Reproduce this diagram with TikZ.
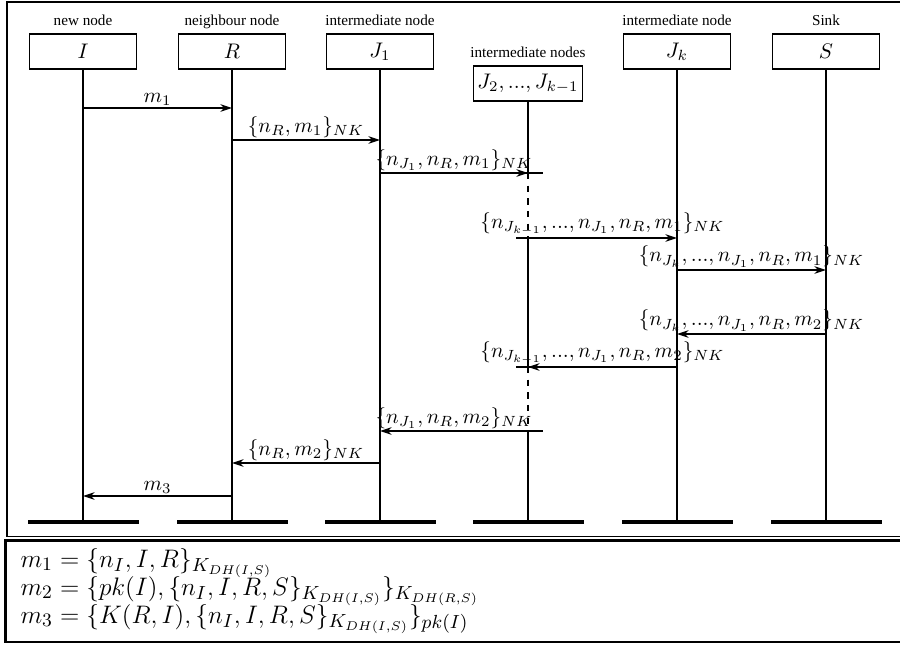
\documentclass[tikz,border=0pt]{standalone}
\usepackage{fontspec}
\newfontfamily\rolefont{Liberation Serif}
\usetikzlibrary{arrows.meta,calc,positioning}

\tikzset{
  actor/.style={draw, line width=0.5pt, minimum width=51pt, minimum height=16.6pt, inner sep=1pt},
  role/.style={font=\rolefont\fontsize{7.2}{8.6}\selectfont, inner sep=2.3pt, text depth=0pt},
  msg/.style={line width=0.5pt, -{Stealth[length=5.5pt,width=3.6pt,inset=1.8pt]}},
  mlabel/.style={above, inner sep=1pt, midway},
  endbar/.style={line width=1.9pt},
  def/.style={anchor=base west, inner sep=0pt, font=\fontsize{12.8}{15}\selectfont},
}

\begin{document}
\begin{tikzpicture}[x=0.474pt, y=-0.474pt, line width=0.5pt]
            \useasboundingbox (0,0) rectangle (900,646);
            \clip (0,0) rectangle (900,646);

            % Frames
            \draw[line width=0.6pt] (7,2) rectangle (920,536.5);
            \draw[line width=1pt] (5.5,540.5) rectangle (920,642);

            % Participants
            \node[actor] (I)  at (83,51.5)  {$I$};
            \node[actor] (R)  at (232,51.5) {$R$};
            \node[actor] (J1) at (380,51.5) {$J_1$};
            \node[actor, minimum width=52pt] (J) at (528,83.5) {$J_2, ..., J_{k-1}$};
            \node[actor] (Jk) at (677,51.5) {$J_k$};
            \node[actor] (S)  at (826,51.5) {$S$};

            \node[role, above=1.2pt of I]  (tI)  {new node};
            \node[role, above=1.2pt of R]  (tR)  {neighbour node};
            \node[role, above=1.2pt of J1] (tJ1) {intermediate node};
            \node[role, above=1.2pt of J]  (tJ)  {intermediate nodes};
            \node[role, above=1.2pt of Jk] (tJk) {intermediate node};
            \node[role, above=1.2pt of S]  (tS)  {Sink};

            % Lifelines
            \coordinate (bottom) at (0,522);
            \foreach \n in {I,R,J1,Jk,S}
              \draw (\n.south) -- (\n |- bottom);
            \draw (J.south) -- (J |- 0,173);
            \draw[dashed] (J |- 0,173) -- (J |- 0,238);
            \draw (J |- 0,238) -- (J |- 0,367);
            \draw[dashed] (J |- 0,367) -- (J |- 0,431);
            \draw (J |- 0,431) -- (J |- bottom);
            \foreach \y in {173,238,367,431}
              \draw (516,\y) -- (543,\y);

            \foreach \n in {I,R,J1,J,Jk,S}
              \draw[endbar] ($(\n |- bottom)+(-55,0)$) -- ($(\n |- bottom)+(56,0)$);

            % Messages
            \draw[msg] (I |- 0,108)  -- (R |- 0,108)  node[mlabel] {$m_1$};
            \draw[msg] (R |- 0,140)  -- (J1 |- 0,140) node[mlabel] {$\{n_R, m_1\}_{NK}$};
            \draw[msg] (J1 |- 0,173) -- (J |- 0,173)  node[mlabel] {$\{n_{J_1}, n_R, m_1\}_{NK}$};
            \draw[msg] (J |- 0,238)  -- (Jk |- 0,238) node[mlabel] {$\{n_{J_{k-1}}, ..., n_{J_1}, n_R, m_1\}_{NK}$};
            \draw[msg] (Jk |- 0,270) -- (S |- 0,270)  node[mlabel] {$\{n_{J_k}, ..., n_{J_1}, n_R, m_1\}_{NK}$};
            \draw[msg] (S |- 0,334)  -- (Jk |- 0,334) node[mlabel] {$\{n_{J_k}, ..., n_{J_1}, n_R, m_2\}_{NK}$};
            \draw[msg] (Jk |- 0,367) -- (J |- 0,367)  node[mlabel] {$\{n_{J_{k-1}}, ..., n_{J_1}, n_R, m_2\}_{NK}$};
            \draw[msg] (J |- 0,431)  -- (J1 |- 0,431) node[mlabel] {$\{n_{J_1}, n_R, m_2\}_{NK}$};
            \draw[msg] (J1 |- 0,463) -- (R |- 0,463)  node[mlabel] {$\{n_R, m_2\}_{NK}$};
            \draw[msg] (R |- 0,496)  -- (I |- 0,496)  node[mlabel] {$m_3$};

            % Message contents
            \node[def] (def1) at (20,567) {$m_1 = \{n_I, I, R\}_{K_{DH(I,S)}}$};
            \node[def] (def2) at (20,595) {$m_2 = \{pk(I), \{n_I, I, R, S\}_{K_{DH(I,S)}}\}_{K_{DH(R,S)}}$};
            \node[def] (def3) at (20,623) {$m_3 = \{K(R,I), \{n_I, I, R, S\}_{K_{DH(I,S)}}\}_{pk(I)}$};
\end{tikzpicture}
\end{document}
